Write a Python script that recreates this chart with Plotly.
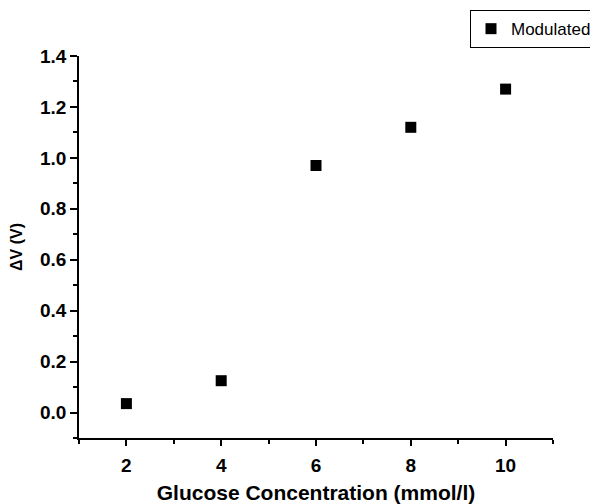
import plotly.graph_objects as go

concentration = [2, 4, 6, 8, 10]
delta_v = [0.035, 0.125, 0.97, 1.12, 1.27]
series_name = "Modulated"

font_family = "Liberation Sans, Arial, sans-serif"

# The page body has a default 8px margin, so the figure is sized to fit the 598x504 window.
fig = go.Figure()
fig.add_trace(go.Scatter(
    x=concentration, y=delta_v, mode="markers", name=series_name,
    marker=dict(symbol="square", size=11, color="black"),
))

fig.update_layout(
    width=590, height=496,
    margin=dict(l=71, r=45, t=48, b=66, autoexpand=False),
    paper_bgcolor="white", plot_bgcolor="white",
    font=dict(family=font_family, color="black"),
    showlegend=True,
    legend=dict(
        x=(597 - 79) / 474, y=(439 - 10) / 383, xanchor="right", yanchor="top",
        bordercolor="black", borderwidth=1,
        font=dict(size=17, family=font_family),
        itemwidth=30, tracegroupgap=0,
    ),
    xaxis=dict(
        range=[1, 11], tick0=0, dtick=2,
        showline=True, linecolor="black", linewidth=1.8,
        ticks="outside", ticklen=6, tickwidth=1.5, tickcolor="black",
        minor=dict(ticks="outside", ticklen=4, tickwidth=1.5, dtick=1, tick0=0, tickcolor="black"),
        showgrid=False, zeroline=False, automargin=False,
        ticklabelstandoff=3,
        tickfont=dict(size=19, family=font_family, weight="bold"),
        title=dict(text="<b>Glucose Concentration (mmol/l)</b>", font=dict(size=21, family=font_family), standoff=11),
    ),
    yaxis=dict(
        range=[-0.1, 1.4], tick0=0, dtick=0.2, tickformat=".1f",
        showline=True, linecolor="black", linewidth=1.8,
        ticks="outside", ticklen=7, tickwidth=1.5, tickcolor="black",
        minor=dict(ticks="outside", ticklen=4, tickwidth=1.5, dtick=0.1, tick0=0, tickcolor="black"),
        showgrid=False, zeroline=False, automargin=False,
        tickfont=dict(size=19, family=font_family, weight="bold"),
        title=dict(text="<b>ΔV (V)</b>", font=dict(size=16, family=font_family), standoff=14),
    ),
)

fig.write_html("out.html")
